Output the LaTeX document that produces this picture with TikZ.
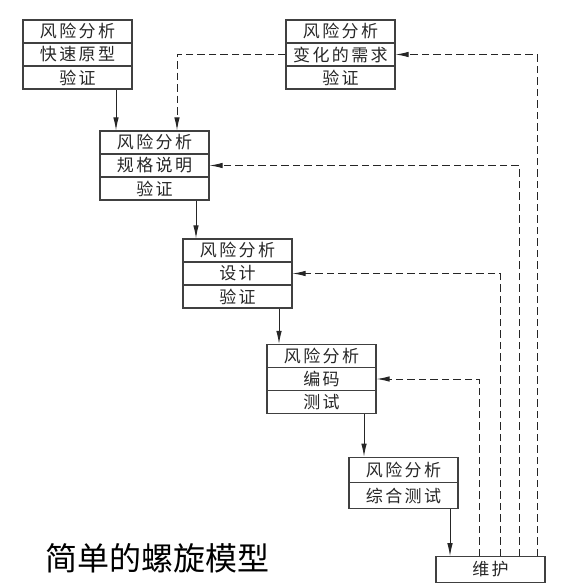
\documentclass[tikz,border=0pt]{standalone}
\usepackage{fontspec}
\setmainfont{Noto Sans CJK SC}
\newfontfamily\cellfont[LetterSpace=14]{Noto Sans CJK SC}
\newfontfamily\titlefont{Noto Sans CJK SC}
\usetikzlibrary{arrows.meta}
\tikzset{
  cell/.style={draw=black!75, line width=1.1pt, minimum width=109pt, minimum height=23pt,
    inner sep=0pt, text=black!85, font=\cellfont\fontsize{17}{17}\selectfont},
  tallcell/.style={cell, minimum height=25.5pt},
  sarrow/.style={-{Latex[length=13pt,width=5.5pt]}, line width=1pt, draw=black!85},
  darrow/.style={sarrow, dash pattern=on 7.5pt off 4pt},
}
\begin{document}
\begin{tikzpicture}[x=1pt,y=-1pt]
\useasboundingbox (0,0) rectangle (577,585);
% box 1
\node[cell] (b1a) at (77.5,31.5) {风险分析};
\node[cell] (b1b) at (77.5,54.5) {快速原型};
\node[cell] (b1c) at (77.5,77.5) {验证};
% box 2
\node[cell] (b2a) at (340.5,31.5) {风险分析};
\node[cell] (b2b) at (340.5,54.5) {变化的需求};
\node[cell] (b2c) at (340.5,77.5) {验证};
% box 3
\node[cell] (b3a) at (154.5,142.5) {风险分析};
\node[cell] (b3b) at (154.5,165.5) {规格说明};
\node[cell] (b3c) at (154.5,188.5) {验证};
% box 4
\node[cell] (b4a) at (237.5,250.5) {风险分析};
\node[cell] (b4b) at (237.5,273.5) {设计};
\node[cell] (b4c) at (237.5,296.5) {验证};
% box 5
\node[cell] (b5a) at (321.5,356) {风险分析};
\node[cell] (b5b) at (321.5,379) {编码};
\node[cell] (b5c) at (321.5,402) {测试};
% box 6
\node[tallcell] (b6a) at (403.5,470) {风险分析};
\node[tallcell] (b6b) at (403.5,495.5) {综合测试};
% maintenance
\node[tallcell] (wh) at (490.5,569.5) {维护};
% title
\node[font=\titlefont\fontsize{32}{32}\selectfont, text=black, inner sep=0pt] (title) at (157.5,558) {简单的螺旋模型};
% x positions
\coordinate (x116) at (116,0);
\coordinate (x196) at (196,0);
\coordinate (x279) at (279,0);
\coordinate (x364) at (364,0);
\coordinate (x450) at (450,0);
\coordinate (x177) at (177,0);
\coordinate (x479) at (479,0);
\coordinate (x500) at (500,0);
\coordinate (x519) at (519,0);
\coordinate (x537) at (537,0);
% solid arrows
\draw[sarrow] (b1c.south -| x116) -- (b3a.north -| x116);
\draw[sarrow] (b3c.south -| x196) -- (b4a.north -| x196);
\draw[sarrow] (b4c.south -| x279) -- (b5a.north -| x279);
\draw[sarrow] (b5c.south -| x364) -- (b6a.north -| x364);
\draw[sarrow] (b6b.south -| x450) -- (wh.north -| x450);
% dashed arrows
\draw[darrow] (b2b.west) -| (b3a.north -| x177);
\draw[darrow] (wh.north -| x537) |- (b2b.east);
\draw[darrow] (wh.north -| x519) |- (b3b.east);
\draw[darrow] (wh.north -| x500) |- (b4b.east);
\draw[darrow] (wh.north -| x479) |- (b5b.east);
\end{tikzpicture}
\end{document}
